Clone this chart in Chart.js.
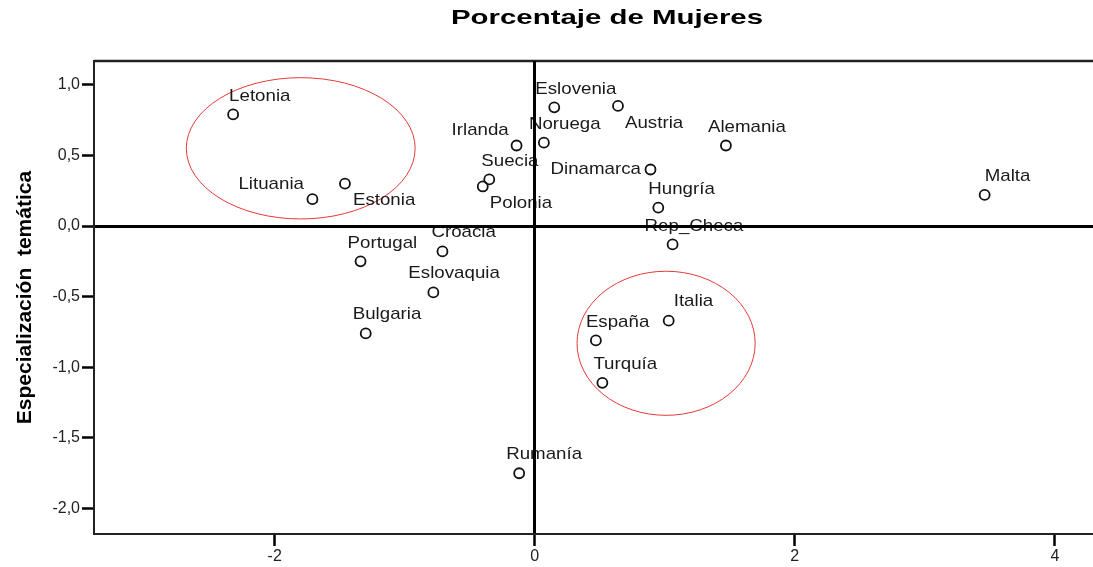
<!DOCTYPE html>
<html>
<head>
<meta charset="utf-8">
<script src="https://cdn.jsdelivr.net/npm/chart.js@4"></script>
<style>
html, body { margin: 0; padding: 0; background: #fff; overflow: hidden; }
#wrap { width: 1093px; height: 567px; }
#chart { display: block; }
</style>
</head>
<body>
<div id="wrap"><canvas id="chart" width="1093" height="567"></canvas></div>
<script>
const countries = ['Letonia', 'Lituania', 'Estonia', 'Eslovenia', 'Austria', 'Irlanda', 'Noruega', 'Alemania',
    'Suecia', 'Polonia', 'Dinamarca', 'Hungría', 'Malta', 'Rep_Checa', 'Croacia', 'Portugal',
    'Eslovaquia', 'Bulgaria', 'Italia', 'España', 'Turquía', 'Rumanía'];
const xValues = [-2.32, -1.71, -1.46, 0.15, 0.64, -0.14, 0.07, 1.47,
    -0.35, -0.40, 0.89, 0.95, 3.46, 1.06, -0.71, -1.34,
    -0.78, -1.30, 1.03, 0.47, 0.52, -0.12];
const yValues = [0.79, 0.19, 0.30, 0.84, 0.85, 0.57, 0.59, 0.57,
    0.33, 0.28, 0.40, 0.13, 0.22, -0.13, -0.18, -0.25,
    -0.47, -0.76, -0.67, -0.81, -1.11, -1.75];
const xTicks = [-2, 0, 2, 4];
const yTicks = [-2, -1.5, -1, -0.5, 0, 0.5, 1];

// red rings drawn round two groups (centre and radii in axis units)
const rings = [
    { cx: -1.80, cy: 0.55, rx: 0.88, ry: 0.50 },
    { cx: 1.01, cy: -0.83, rx: 0.685, ry: 0.51 }
];

// where each name sits next to its point, in pixels: [dx to left of text, dy to middle of text]
const labelOffsets = [
    [-4, -18], [-74, -15], [8, 17], [-19, -18], [7, 17], [-65, -15], [-15, -18], [-18, -18],
    [-8, -18], [7, 17], [-100, 0], [-10, -18], [0, -19], [-28, -18], [-11, -19], [-13, -18],
    [-25, -19], [-13, -19], [5, -19], [-10, -18], [-9, -19], [-13, -19]
];

const FONT = '"Liberation Sans", Arial, sans-serif';

const extras = {
    id: 'extras',
    beforeDraw(chart) {
        const ctx = chart.ctx;
        const xs = chart.scales.x, ys = chart.scales.y;
        const area = chart.chartArea;
        ctx.save();

        // title
        ctx.font = 'bold 21px ' + FONT;
        ctx.fillStyle = '#000';
        ctx.textAlign = 'center';
        ctx.textBaseline = 'middle';
        ctx.translate(607, 18);
        ctx.scale(1.4, 1);
        ctx.fillText('Porcentaje de Mujeres', 0, 0);
        ctx.setTransform(1, 0, 0, 1, 0, 0);

        // rings
        ctx.strokeStyle = '#e53935';
        ctx.lineWidth = 1;
        rings.forEach(r => {
            const cx = xs.getPixelForValue(r.cx), cy = ys.getPixelForValue(r.cy);
            const rx = Math.abs(xs.getPixelForValue(r.cx + r.rx) - cx);
            const ry = Math.abs(ys.getPixelForValue(r.cy + r.ry) - cy);
            ctx.beginPath();
            ctx.ellipse(cx, cy, rx, ry, 0, 0, Math.PI * 2);
            ctx.stroke();
        });

        // point names
        ctx.font = '17px ' + FONT;
        ctx.fillStyle = '#1a1a1a';
        ctx.textAlign = 'left';
        ctx.textBaseline = 'middle';
        chart.getDatasetMeta(0).data.forEach((pt, i) => {
            const off = labelOffsets[i];
            ctx.setTransform(1.1, 0, 0, 1, pt.x + off[0], pt.y + off[1]);
            ctx.fillText(countries[i], 0, 0);
        });
        ctx.setTransform(1, 0, 0, 1, 0, 0);

        // frame: top line, and carry bottom and zero lines on to the picture edge
        ctx.strokeStyle = '#222';
        ctx.lineWidth = 2.5;
        ctx.beginPath();
        ctx.moveTo(area.left, area.top);
        ctx.lineTo(chart.width, area.top);
        ctx.stroke();
        ctx.lineWidth = 2;
        const yb = Math.round(area.bottom);
        ctx.beginPath();
        ctx.moveTo(area.right - 1, yb);
        ctx.lineTo(chart.width, yb);
        ctx.stroke();
        ctx.strokeStyle = '#000';
        ctx.lineWidth = 3;
        const y0 = Math.round(ys.getPixelForValue(0)) + 0.5;
        ctx.beginPath();
        ctx.moveTo(area.right - 1, y0);
        ctx.lineTo(chart.width, y0);
        ctx.stroke();
        ctx.restore();
    }
};

const zeroGrid = {
    drawOnChartArea: true,
    color: c => (c.tick && c.tick.value === 0) ? '#000' : 'rgba(0,0,0,0)',
    lineWidth: c => (c.tick && c.tick.value === 0) ? 3 : 1,
    tickColor: '#000',
    tickWidth: 2.5,
    tickLength: 12
};

new Chart(document.getElementById('chart'), {
    type: 'scatter',
    data: {
        datasets: [{
            data: xValues.map((x, i) => ({ x: x, y: yValues[i] })),
            pointStyle: 'circle',
            pointRadius: 5,
            pointHoverRadius: 5,
            pointBorderWidth: 1.8,
            pointBorderColor: '#111',
            pointBackgroundColor: 'rgba(255,255,255,0)'
        }]
    },
    options: {
        responsive: false,
        animation: false,
        devicePixelRatio: 1,
        layout: { padding: { top: 61, right: 0, left: 0, bottom: 0 } },
        plugins: { legend: { display: false }, tooltip: { enabled: false } },
        scales: {
            x: {
                type: 'linear',
                min: -3.39,
                max: 4.241,
                afterBuildTicks: s => { s.ticks = xTicks.map(v => ({ value: v })); },
                afterFit: s => { s.height = 33; s.paddingLeft = 0; s.paddingRight = 0; },
                grid: zeroGrid,
                border: { display: true, color: '#222', width: 2 },
                ticks: {
                    color: '#222',
                    padding: 1,
                    maxRotation: 0,
                    font: { family: FONT, size: 16 },
                    callback: v => String(v)
                }
            },
            y: {
                type: 'linear',
                min: -2.18,
                max: 1.168,
                afterBuildTicks: s => { s.ticks = yTicks.map(v => ({ value: v })); },
                afterFit: s => { s.width = 94; s.paddingTop = 0; s.paddingBottom = 0; },
                grid: zeroGrid,
                border: { display: true, color: '#222', width: 2 },
                ticks: {
                    color: '#222',
                    padding: 2,
                    font: { family: FONT, size: 16 },
                    callback: v => v.toFixed(1).replace('.', ',')
                },
                title: {
                    display: true,
                    text: 'Especialización  temática',
                    color: '#000',
                    padding: { top: 13, bottom: 0 },
                    font: { family: FONT, size: 21, weight: 'bold' }
                }
            }
        }
    },
    plugins: [extras]
});
</script>
</body>
</html>
